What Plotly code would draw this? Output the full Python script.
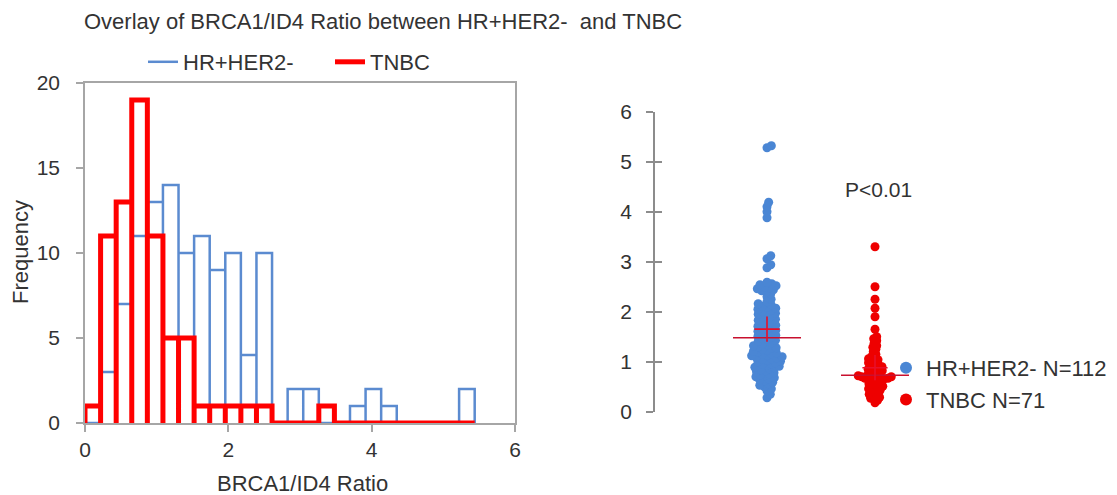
import numpy as np
import plotly.graph_objects as go

# ---------------- data ----------------
SERIES = ["HR+HER2-", "TNBC"]
HR_VALUES = [
    0.28, 0.35, 0.42,
    0.46, 0.50, 0.53, 0.56, 0.59, 0.62, 0.64,
    0.66, 0.68, 0.70, 0.72, 0.74, 0.76, 0.78, 0.80, 0.82, 0.84, 0.86,
    0.88, 0.89, 0.91, 0.93, 0.95, 0.96, 0.98, 1.00, 1.01, 1.03, 1.05, 1.06, 1.08,
    1.09, 1.10, 1.12, 1.13, 1.15, 1.16, 1.18, 1.20, 1.21, 1.23, 1.25, 1.27, 1.28, 1.30,
    1.32, 1.34, 1.36, 1.38, 1.41, 1.43, 1.45, 1.47, 1.49, 1.51,
    1.53, 1.55, 1.57, 1.59, 1.61, 1.63, 1.65, 1.67, 1.69, 1.71, 1.73,
    1.76, 1.78, 1.80, 1.83, 1.85, 1.88, 1.90, 1.92, 1.95,
    1.97, 1.99, 2.01, 2.03, 2.05, 2.07, 2.09, 2.11, 2.14, 2.16,
    2.20, 2.25, 2.30, 2.36,
    2.40, 2.42, 2.44, 2.46, 2.48, 2.50, 2.52, 2.54, 2.56, 2.59,
    2.88, 2.94, 3.06, 3.12,
    3.88, 4.00, 4.10, 4.19,
    5.28, 5.32,
]
TNBC_VALUES = [
    0.18,
    0.23, 0.25, 0.27, 0.29, 0.31, 0.33, 0.35, 0.37, 0.39, 0.41, 0.43,
    0.45, 0.46, 0.48, 0.50, 0.51, 0.53, 0.55, 0.56, 0.58, 0.60, 0.61, 0.63, 0.65,
    0.66, 0.66, 0.67, 0.67, 0.68, 0.69, 0.70, 0.70, 0.71, 0.72, 0.73, 0.75, 0.77,
    0.79, 0.80, 0.82, 0.83, 0.85, 0.86,
    0.88, 0.90, 0.92, 0.94, 0.96, 0.98, 1.00, 1.02, 1.04, 1.06, 1.08,
    1.10, 1.15, 1.20, 1.25, 1.29,
    1.32, 1.37, 1.42, 1.46, 1.50,
    1.65, 1.90, 2.07, 2.25, 2.50,
    3.30,
]
BIN_WIDTH = 0.2175
N_BINS = 25
HIST_X_TICKS = [0, 2, 4, 6]
HIST_Y_TICKS = [0, 5, 10, 15, 20]
DOT_Y_TICKS = [0, 1, 2, 3, 4, 5, 6]
TITLE = "Overlay of BRCA1/ID4 Ratio between HR+HER2-  and TNBC"
P_TEXT = "P<0.01"

# ---------------- style / layout ----------------
W, H = 1117, 495
PAGE_OFF = 8   # default body margin of the written html page
FONT = "Liberation Sans, Arial, sans-serif"
TXT = "#333333"
AXC = "#A6A6A6"
BLUE_LINE = "#5B8BD0"
BLUE_DOT = "#4A86D4"
RED = "#FF0000"
RED_DOT = "#EE0000"
MED_C = "#C8102E"


def px(x):
    return (x - PAGE_OFF) / W


def py(y):
    return 1 - (y - PAGE_OFF) / H


# histogram panel (screen pixels)
HL, HR_, HT, HB = 85, 515, 83, 423
# dot panel (screen pixels)
DL, DR, DT, DB = 655, 1010, 111.7, 411.7
C1_PX, C2_PX = 767, 875
XPX = C2_PX - C1_PX            # pixels per x unit in dot panel
YPX = (DB - DT) / 6.0          # pixels per y unit in dot panel
DOT_SIZE = 9

# ---------------- histogram ----------------
edges = np.arange(N_BINS + 1) * BIN_WIDTH


def outline(values):
    counts, _ = np.histogram(values, bins=edges)
    xs, ys = [], []
    for i, c in enumerate(counts):
        xs += [edges[i], edges[i], edges[i + 1], edges[i + 1]]
        ys += [0, c, c, 0]
    return xs, ys


fig = go.Figure()
bx, by = outline(HR_VALUES)
rx, ry = outline(TNBC_VALUES)
fig.add_trace(go.Scatter(x=bx, y=by, mode="lines", name=SERIES[0],
                         line=dict(color=BLUE_LINE, width=2.5),
                         xaxis="x", yaxis="y", legend="legend", hoverinfo="skip"))
fig.add_trace(go.Scatter(x=rx, y=ry, mode="lines", name=SERIES[1],
                         line=dict(color=RED, width=5),
                         xaxis="x", yaxis="y", legend="legend", hoverinfo="skip"))


# ---------------- swarm ----------------
def swarm(values, spacing):
    ypx = np.asarray(values) * YPX
    order = np.argsort(ypx, kind="stable")
    placed = []
    offs = np.zeros(len(ypx))
    d2 = spacing ** 2
    for i in order:
        y = ypx[i]
        cands = [0.0]
        for (qy, qx) in placed:
            dy = abs(qy - y)
            if dy < spacing:
                dx = np.sqrt(d2 - dy * dy)
                cands += [qx + dx, qx - dx]
        cands.sort(key=abs)
        for c in cands:
            if all((c - qx) ** 2 + (y - qy) ** 2 >= d2 - 1e-6 for qy, qx in placed):
                offs[i] = c
                placed.append((y, c))
                break
    return offs / XPX


groups = [(SERIES[0], HR_VALUES, 1, BLUE_DOT, 4.8), (SERIES[1], TNBC_VALUES, 2, RED_DOT, 3.6)]
for name, vals, cx, col, sp in groups:
    xo = swarm(vals, sp)
    fig.add_trace(go.Scatter(x=cx + xo, y=vals, mode="markers",
                             name=f"{name} N={len(vals)}",
                             marker=dict(color=col, size=DOT_SIZE),
                             xaxis="x2", yaxis="y2", legend="legend2", hoverinfo="skip"))

half = 34.0 / XPX
for name, vals, cx, col, sp in groups:
    med = float(np.median(vals))
    fig.add_trace(go.Scatter(x=[cx - half, cx + half], y=[med, med], mode="lines",
                             line=dict(color=MED_C, width=1.6), showlegend=False,
                             xaxis="x2", yaxis="y2", hoverinfo="skip"))
    mean = float(np.mean(vals))
    fig.add_trace(go.Scatter(x=[cx], y=[mean], mode="markers",
                             marker=dict(symbol="cross-thin", size=18,
                                         line=dict(color="#E8102A", width=1.6)),
                             showlegend=False, xaxis="x2", yaxis="y2", hoverinfo="skip"))

# ---------------- layout ----------------
tickfont = dict(family=FONT, size=21, color=TXT)
x2_lo = 1 - (C1_PX - DL) / XPX
x2_hi = 2 + (DR - C2_PX) / XPX

fig.update_layout(
    width=W, height=H, autosize=False,
    margin=dict(l=0, r=0, t=0, b=0, autoexpand=False),
    paper_bgcolor="white", plot_bgcolor="white",
    font=dict(family=FONT, color=TXT),
    xaxis=dict(domain=[px(HL), px(HR_)], range=[0, 6], tickvals=HIST_X_TICKS,
               showline=True, linecolor=AXC, linewidth=1.5, mirror=True,
               ticks="outside", ticklen=7, tickcolor=AXC, tickwidth=1.5,
               showgrid=False, zeroline=False, tickfont=tickfont,
               ticklabelstandoff=0, automargin=False),
    yaxis=dict(domain=[py(HB), py(HT)], range=[0, 20], tickvals=HIST_Y_TICKS,
               showline=True, linecolor=AXC, linewidth=1.5, mirror=True,
               ticks="outside", ticklen=7, tickcolor=AXC, tickwidth=1.5,
               showgrid=False, zeroline=False, tickfont=tickfont,
               ticklabelstandoff=12, automargin=False),
    xaxis2=dict(domain=[px(DL), px(DR)], range=[x2_lo, x2_hi], visible=False,
                anchor="y2", automargin=False),
    yaxis2=dict(domain=[py(DB), py(DT)], range=[0, 6], tickvals=DOT_Y_TICKS,
                anchor="x2", showline=True, linecolor="#8C8C8C", linewidth=1.5,
                ticks="outside", ticklen=7, tickcolor="#8C8C8C", tickwidth=1.5,
                showgrid=False, zeroline=False, tickfont=tickfont,
                ticklabelstandoff=10, automargin=False),
    yaxis3=dict(domain=[py(DB), py(DT)], range=[0, 6], tickvals=DOT_Y_TICKS,
                overlaying="y2", anchor="x2", showline=False,
                ticks="inside", ticklen=7, tickcolor="#8C8C8C", tickwidth=1.5,
                showticklabels=False, showgrid=False, zeroline=False, automargin=False),
    legend=dict(orientation="h", x=px(143), y=py(62), xanchor="left", yanchor="middle",
                font=dict(family=FONT, size=22, color=TXT), bgcolor="rgba(0,0,0,0)",
                itemwidth=30, tracegroupgap=0, entrywidth=142),
    legend2=dict(orientation="v", x=px(886), y=py(384), xanchor="left", yanchor="middle",
                 font=dict(family=FONT, size=22, color=TXT), bgcolor="rgba(0,0,0,0)",
                 itemsizing="constant", itemwidth=30),
    annotations=[
        dict(text=TITLE, x=px(82), y=py(22), xref="paper", yref="paper",
             xanchor="left", yanchor="middle", showarrow=False,
             font=dict(family=FONT, size=22, color=TXT)),
        dict(text="Frequency", x=px(20), y=py(252), xref="paper", yref="paper",
             xanchor="center", yanchor="middle", showarrow=False, textangle=-90,
             font=dict(family=FONT, size=22, color=TXT)),
        dict(text="BRCA1/ID4 Ratio", x=px(302), y=py(483), xref="paper", yref="paper",
             xanchor="center", yanchor="middle", showarrow=False,
             font=dict(family=FONT, size=22, color=TXT)),
        dict(text=P_TEXT, x=px(878), y=py(190), xref="paper", yref="paper",
             xanchor="center", yanchor="middle", showarrow=False,
             font=dict(family=FONT, size=21, color=TXT)),
    ],
)
# dummy trace to activate yaxis3
fig.add_trace(go.Scatter(x=[None], y=[None], xaxis="x2", yaxis="y3",
                         showlegend=False, hoverinfo="skip"))

fig.write_html("out.html")
